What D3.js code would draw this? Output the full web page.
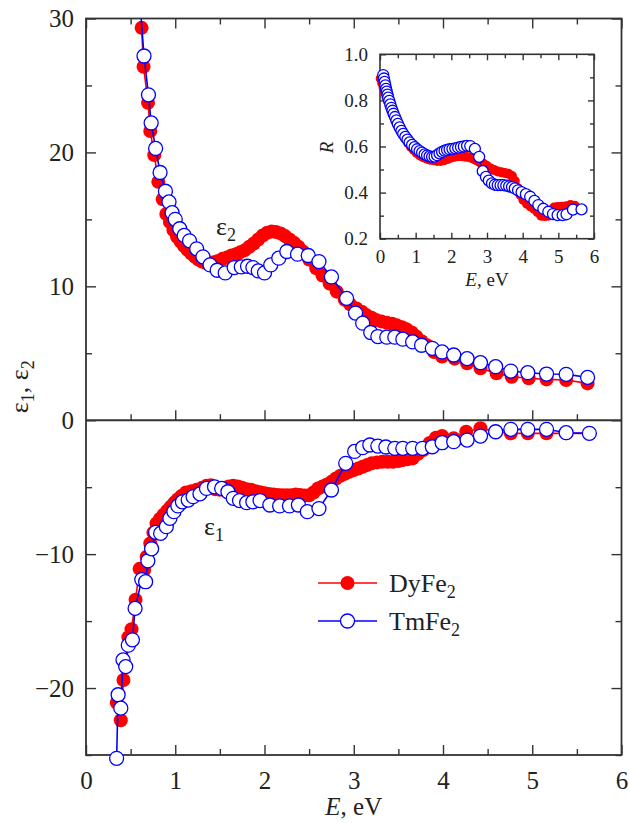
<!DOCTYPE html>
<html><head><meta charset="utf-8">
<script src="https://cdn.jsdelivr.net/npm/d3@7"></script>
<style>
body{margin:0;background:#fff}
svg{display:block}
text{font-family:"Liberation Serif","Times New Roman",serif;fill:#222}
</style>
</head><body>
<svg id="c" width="629" height="823"></svg>
<script>
// ---------- data (E in eV) ----------
const e2Tm = [[0.59,32.5],[0.65,27.2],[0.70,24.3],[0.73,22.2],[0.78,20.3],[0.83,18.5],[0.89,17.1],[0.93,16.3],[0.965,15.5],[1.00,15.0],[1.05,14.3],[1.10,13.8],[1.16,13.4],[1.24,12.8],[1.31,12.2],[1.39,11.6],[1.47,11.2],[1.56,11.0],[1.66,11.4],[1.74,11.45],[1.81,11.5],[1.87,11.4],[1.93,11.15],[2.00,11.0],[2.07,11.6],[2.16,12.1],[2.25,12.6],[2.37,12.4],[2.49,12.3],[2.61,11.85],[2.75,10.7],[2.92,9.1],[3.02,8.0],[3.10,7.25],[3.19,6.55],[3.27,6.25],[3.37,6.2],[3.46,6.2],[3.55,6.05],[3.66,5.85],[3.76,5.6],[3.88,5.37],[3.99,5.1],[4.12,4.87],[4.27,4.6],[4.42,4.3],[4.59,4.0],[4.76,3.67],[4.95,3.55],[5.16,3.45],[5.38,3.43],[5.62,3.2]];
const e2Dy = [[0.623,29.3],[0.645,26.4],[0.695,23.7],[0.72,21.6],[0.765,19.8],[0.81,17.8],[0.86,16.5],[0.90,15.4],[0.94,14.8],[0.98,14.2],[1.02,13.7],[1.06,13.35],[1.10,13.0],[1.14,12.7],[1.18,12.45],[1.22,12.2],[1.26,12.0],[1.30,11.85],[1.34,11.75],[1.38,11.7],[1.43,11.8],[1.48,11.9],[1.53,12.05],[1.58,12.15],[1.63,12.3],[1.68,12.4],[1.73,12.55],[1.78,12.7],[1.83,12.95],[1.88,13.2],[1.93,13.5],[1.98,13.8],[2.03,14.0],[2.08,14.1],[2.13,14.05],[2.18,13.95],[2.23,13.75],[2.28,13.5],[2.33,13.25],[2.38,12.95],[2.43,12.6],[2.50,12.0],[2.58,11.35],[2.65,10.8],[2.73,10.2],[2.81,9.6],[2.90,9.0],[2.96,8.65],[3.03,8.35],[3.09,8.1],[3.14,7.85],[3.20,7.65],[3.25,7.48],[3.31,7.38],[3.37,7.28],[3.43,7.2],[3.48,7.1],[3.54,6.95],[3.59,6.8],[3.65,6.55],[3.70,6.25],[3.76,5.9],[3.82,5.6],[3.90,5.1],[3.99,4.75],[4.13,4.6],[4.27,4.25],[4.42,3.88],[4.60,3.5],[4.77,3.25],[4.96,3.13],[5.16,3.05],[5.38,3.0],[5.62,2.75]];
const e1Tm = [[0.343,-25.25],[0.36,-20.5],[0.39,-21.5],[0.415,-17.9],[0.445,-18.4],[0.474,-16.8],[0.52,-16.4],[0.55,-14.05],[0.625,-11.9],[0.668,-12.06],[0.693,-10.5],[0.735,-9.6],[0.78,-8.37],[0.836,-8.45],[0.90,-7.95],[0.94,-7.33],[0.985,-6.83],[1.03,-6.4],[1.08,-6.09],[1.145,-5.96],[1.20,-5.71],[1.277,-5.5],[1.35,-5.09],[1.44,-4.97],[1.52,-5.09],[1.59,-5.34],[1.65,-5.83],[1.72,-6.0],[1.80,-6.16],[1.87,-6.09],[1.95,-6.0],[2.06,-6.33],[2.17,-6.4],[2.28,-6.4],[2.38,-6.33],[2.48,-6.83],[2.61,-6.6],[2.75,-5.21],[2.91,-3.22],[3.01,-2.33],[3.10,-2.05],[3.18,-1.85],[3.27,-1.93],[3.36,-2.0],[3.46,-2.1],[3.55,-2.1],[3.66,-2.1],[3.77,-2.1],[3.88,-1.98],[3.99,-1.68],[4.12,-1.6],[4.27,-1.48],[4.42,-1.18],[4.59,-0.86],[4.76,-0.68],[4.95,-0.68],[5.16,-0.68],[5.38,-0.93],[5.64,-0.98]];
const e1Dy = [[0.345,-21.1],[0.39,-22.4],[0.42,-19.4],[0.475,-16.2],[0.51,-15.6],[0.555,-13.4],[0.60,-11.1],[0.65,-11.2],[0.68,-10.2],[0.72,-9.2],[0.755,-8.4],[0.79,-7.7],[0.83,-7.35],[0.87,-7.05],[0.91,-6.75],[0.95,-6.45],[0.99,-6.15],[1.03,-5.9],[1.07,-5.65],[1.12,-5.4],[1.18,-5.3],[1.24,-5.2],[1.30,-5.05],[1.35,-4.9],[1.40,-4.85],[1.45,-5.15],[1.50,-5.2],[1.55,-5.05],[1.60,-4.95],[1.65,-4.9],[1.70,-4.95],[1.75,-5.05],[1.80,-5.15],[1.85,-5.2],[1.90,-5.3],[1.95,-5.38],[2.00,-5.45],[2.05,-5.5],[2.10,-5.55],[2.15,-5.58],[2.20,-5.6],[2.25,-5.6],[2.30,-5.6],[2.35,-5.55],[2.40,-5.58],[2.45,-5.62],[2.50,-5.6],[2.55,-5.4],[2.60,-5.1],[2.65,-4.95],[2.70,-4.8],[2.75,-4.6],[2.80,-4.35],[2.85,-4.15],[2.90,-4.0],[2.95,-3.85],[3.00,-3.72],[3.05,-3.6],[3.10,-3.47],[3.15,-3.35],[3.20,-3.22],[3.26,-3.15],[3.32,-3.1],[3.38,-3.1],[3.44,-3.1],[3.50,-3.05],[3.55,-2.97],[3.60,-2.92],[3.66,-2.85],[3.72,-2.5],[3.78,-2.23],[3.85,-1.7],[3.92,-1.3],[3.99,-1.18],[4.12,-1.35],[4.26,-0.86],[4.42,-0.6],[4.59,-0.86],[4.76,-0.98],[4.95,-0.98],[5.16,-0.98],[5.38,-0.98],[5.64,-0.98]];
const rTm = [[0.09,0.91],[0.11,0.895],[0.13,0.88],[0.15,0.865],[0.17,0.85],[0.19,0.838],[0.21,0.825],[0.23,0.812],[0.26,0.798],[0.29,0.783],[0.32,0.768],[0.35,0.755],[0.38,0.742],[0.42,0.728],[0.46,0.713],[0.50,0.698],[0.55,0.683],[0.60,0.668],[0.65,0.655],[0.71,0.642],[0.77,0.63],[0.83,0.618],[0.90,0.607],[0.97,0.597],[1.04,0.588],[1.11,0.58],[1.18,0.573],[1.25,0.566],[1.32,0.561],[1.39,0.557],[1.46,0.555],[1.53,0.556],[1.60,0.562],[1.67,0.57],[1.74,0.577],[1.81,0.582],[1.88,0.585],[1.95,0.588],[2.03,0.59],[2.11,0.592],[2.19,0.595],[2.27,0.598],[2.35,0.6],[2.44,0.603],[2.53,0.602],[2.66,0.59],[2.78,0.555],[2.88,0.493],[2.97,0.468],[3.05,0.452],[3.14,0.44],[3.22,0.434],[3.30,0.432],[3.38,0.432],[3.46,0.432],[3.54,0.43],[3.62,0.427],[3.70,0.424],[3.78,0.418],[3.87,0.41],[3.97,0.402],[4.09,0.393],[4.21,0.382],[4.33,0.364],[4.44,0.346],[4.58,0.33],[4.72,0.317],[4.85,0.307],[4.98,0.302],[5.12,0.302],[5.23,0.306],[5.41,0.326],[5.65,0.327]];
const rDy = [[0.02,0.895],[0.06,0.875],[0.10,0.855],[0.14,0.835],[0.18,0.815],[0.22,0.797],[0.27,0.777],[0.32,0.757],[0.37,0.737],[0.43,0.716],[0.49,0.695],[0.56,0.675],[0.63,0.655],[0.71,0.635],[0.79,0.615],[0.87,0.598],[0.95,0.585],[1.03,0.572],[1.12,0.561],[1.21,0.553],[1.30,0.548],[1.40,0.543],[1.50,0.54],[1.60,0.537],[1.70,0.537],[1.80,0.54],[1.90,0.546],[2.00,0.552],[2.10,0.556],[2.20,0.558],[2.30,0.558],[2.40,0.556],[2.50,0.553],[2.60,0.548],[2.70,0.54],[2.80,0.532],[2.90,0.525],[3.00,0.515],[3.10,0.505],[3.20,0.498],[3.30,0.492],[3.40,0.488],[3.50,0.485],[3.60,0.482],[3.70,0.472],[3.78,0.45],[3.86,0.42],[3.94,0.39],[4.02,0.368],[4.12,0.352],[4.22,0.34],[4.32,0.33],[4.42,0.315],[4.52,0.30],[4.62,0.298],[4.72,0.30],[4.80,0.32],[4.88,0.335],[4.98,0.338],[5.10,0.339],[5.22,0.341],[5.34,0.346],[5.46,0.343]];

const xMajor = [0,1,2,3,4,5,6];
const xMinor = [0.5,1.5,2.5,3.5,4.5,5.5];
const yMajor = [-20,-10,0,10,20,30];
const yMinor = [-25,-15,-5,5,15,25];
const rMajor = [0.2,0.4,0.6,0.8,1.0];
const rMinor = [0.3,0.5,0.7,0.9];
const legendNames = ["DyFe", "TmFe"];

// ---------- layout ----------
const RED = "#ff0000", BLUE = "#0000ff", AX = "#333";
const svg = d3.select("#c");
const x = d3.scaleLinear().domain([0,6]).range([86,621.5]);
const y = d3.scaleLinear().domain([-25,30]).range([755,18.5]);
const xi = d3.scaleLinear().domain([0,6]).range([380,594]);
const yi = d3.scaleLinear().domain([0.2,1.0]).range([238.7,54.3]);

svg.append("defs").append("clipPath").attr("id","plotclip")
  .append("rect").attr("x",x(0)).attr("y",y(30)).attr("width",x(6)-x(0)).attr("height",y(-25)-y(30));

function styleAxis(g, fs){
  g.attr("font-family",null).attr("font-size",null);
  g.select(".domain").remove();
  g.selectAll(".tick line").attr("stroke",AX).attr("stroke-width",1.4);
  g.selectAll(".tick text").style("font-size",fs+"px").style("fill","#222");
}
function frameAxes(g, xs, ys, o){
  const [x0,x1] = xs.range(), [yb,yt] = ys.range();
  // bottom
  g.append("g").attr("transform",`translate(0,${yb})`)
    .call(d3.axisBottom(xs).tickValues(o.xMajor).tickSizeInner(-o.maj).tickSizeOuter(0).tickPadding(o.xpad).tickFormat(o.xfmt))
    .call(s=>styleAxis(s,o.fs));
  g.append("g").attr("transform",`translate(0,${yb})`)
    .call(d3.axisBottom(xs).tickValues(o.xMinor).tickSizeInner(-o.min).tickSizeOuter(0).tickFormat(""))
    .call(s=>styleAxis(s,o.fs));
  // top
  g.append("g").attr("transform",`translate(0,${yt})`)
    .call(d3.axisTop(xs).tickValues(o.xMajor.concat()).tickSizeInner(-o.maj).tickSizeOuter(0).tickFormat(""))
    .call(s=>styleAxis(s,o.fs));
  g.append("g").attr("transform",`translate(0,${yt})`)
    .call(d3.axisTop(xs).tickValues(o.xMinor).tickSizeInner(-o.min).tickSizeOuter(0).tickFormat(""))
    .call(s=>styleAxis(s,o.fs));
  // left
  g.append("g").attr("transform",`translate(${x0},0)`)
    .call(d3.axisLeft(ys).tickValues(o.yMajor).tickSizeInner(-o.maj).tickSizeOuter(0).tickPadding(o.ypad).tickFormat(o.yfmt))
    .call(s=>styleAxis(s,o.fs));
  g.append("g").attr("transform",`translate(${x0},0)`)
    .call(d3.axisLeft(ys).tickValues(o.yMinor).tickSizeInner(-o.min).tickSizeOuter(0).tickFormat(""))
    .call(s=>styleAxis(s,o.fs));
  // right
  g.append("g").attr("transform",`translate(${x1},0)`)
    .call(d3.axisRight(ys).tickValues(o.yMajor).tickSizeInner(-o.maj).tickSizeOuter(0).tickFormat(""))
    .call(s=>styleAxis(s,o.fs));
  g.append("g").attr("transform",`translate(${x1},0)`)
    .call(d3.axisRight(ys).tickValues(o.yMinor).tickSizeInner(-o.min).tickSizeOuter(0).tickFormat(""))
    .call(s=>styleAxis(s,o.fs));
  g.append("rect").attr("x",x0).attr("y",yt).attr("width",x1-x0).attr("height",yb-yt)
    .attr("fill","none").attr("stroke",AX).attr("stroke-width",o.fw);
}

// ---------- main frame ----------
const main = svg.append("g");
frameAxes(main, x, y, {xMajor, xMinor, yMajor:yMajor, yMinor, maj:10, min:6, xpad:16, ypad:12,
  xfmt:d3.format("d"), yfmt:d3.format("d"), fs:25, fw:1.8});
// hide the ticks at 0 / 30 on left/right (they coincide with lines) - fine to keep
// zero line with upward ticks
const zg = main.append("g").attr("transform",`translate(0,${y(0)})`);
zg.append("g").call(d3.axisBottom(x).tickValues(xMajor.slice(1,6)).tickSizeInner(-10).tickSizeOuter(0).tickFormat("")).call(s=>styleAxis(s,25));
zg.append("g").call(d3.axisBottom(x).tickValues(xMinor).tickSizeInner(-6).tickSizeOuter(0).tickFormat("")).call(s=>styleAxis(s,25));
zg.append("line").attr("x1",x(0)).attr("x2",x(6)).attr("y1",0).attr("y2",0).attr("stroke",AX).attr("stroke-width",1.8);

// axis titles
const xt = svg.append("text").attr("x",(x(0)+x(6))/2).attr("y",815).attr("text-anchor","middle").style("font-size","25px");
xt.append("tspan").style("font-style","italic").text("E");
xt.append("tspan").text(", eV");
const yt = svg.append("text").attr("transform",`translate(28,${(y(30)+y(-25))/2}) rotate(-90)`).attr("text-anchor","middle").style("font-size","26px");
yt.append("tspan").text("ε");
yt.append("tspan").attr("dy",6).style("font-size","18px").text("1");
yt.append("tspan").attr("dy",-6).text(", ε");
yt.append("tspan").attr("dy",6).style("font-size","18px").text("2");

// ---------- series ----------
function drawSeries(g, data, xs, ys, color, filled, r, sw, clip){
  const line = d3.line().x(d=>xs(d[0])).y(d=>ys(d[1]));
  const p = g.append("path").datum(data).attr("d",line).attr("fill","none").attr("stroke",color).attr("stroke-width",sw);
  if(clip) p.attr("clip-path","url(#plotclip)");
  g.append("g").selectAll("circle").data(data).join("circle")
    .attr("cx",d=>xs(d[0])).attr("cy",d=>ys(d[1])).attr("r",r)
    .attr("fill",filled?color:"#fff").attr("stroke",filled?"none":color).attr("stroke-width",filled?0:1.3);
}
const dg = svg.append("g");
drawSeries(dg, e2Dy, x, y, RED, true, 7, 1.6, true);
drawSeries(dg, e1Dy, x, y, RED, true, 7, 1.6, true);
drawSeries(dg, e2Tm, x, y, BLUE, false, 7, 1.6, true);
drawSeries(dg, e1Tm, x, y, BLUE, false, 7, 1.6, false);

// annotations
const a2 = svg.append("text").attr("x",216).attr("y",235).style("font-size","26px");
a2.append("tspan").text("ε"); a2.append("tspan").attr("dy",6).style("font-size","18px").text("2");
const a1 = svg.append("text").attr("x",204).attr("y",535).style("font-size","26px");
a1.append("tspan").text("ε"); a1.append("tspan").attr("dy",6).style("font-size","18px").text("1");

// legend
const leg = svg.append("g");
[[RED,true,583,592],[BLUE,false,621,630]].forEach((c,i)=>{
  leg.append("line").attr("x1",318).attr("x2",377).attr("y1",c[2]).attr("y2",c[2]).attr("stroke",c[0]).attr("stroke-width",1.6);
  leg.append("circle").attr("cx",347.5).attr("cy",c[2]).attr("r",7)
    .attr("fill",c[1]?c[0]:"#fff").attr("stroke",c[1]?"none":c[0]).attr("stroke-width",1.3);
  const t = leg.append("text").attr("x",389).attr("y",c[3]).style("font-size","26px");
  t.append("tspan").text(legendNames[i]);
  t.append("tspan").attr("dy",6).style("font-size","18px").text("2");
});

// ---------- inset ----------
const ins = svg.append("g");
ins.append("rect").attr("x",xi(0)).attr("y",yi(1)).attr("width",xi(6)-xi(0)).attr("height",yi(0.2)-yi(1)).attr("fill","#fff");
frameAxes(ins, xi, yi, {xMajor, xMinor, yMajor:rMajor, yMinor:rMinor, maj:6, min:4, xpad:11, ypad:12,
  xfmt:d3.format("d"), yfmt:d3.format(".1f"), fs:19, fw:1.6});
drawSeries(ins, rDy, xi, yi, RED, true, 5, 1.0, false);
drawSeries(ins, rTm, xi, yi, BLUE, false, 5.5, 1.0, false);
const it = svg.append("text").attr("x",(xi(0)+xi(6))/2).attr("y",286).attr("text-anchor","middle").style("font-size","19px");
it.append("tspan").style("font-style","italic").text("E");
it.append("tspan").text(", eV");
svg.append("text").attr("transform","translate(333,147.5) rotate(-90)").attr("text-anchor","middle")
  .style("font-size","19px").style("font-style","italic").text("R");
</script>
</body></html>
